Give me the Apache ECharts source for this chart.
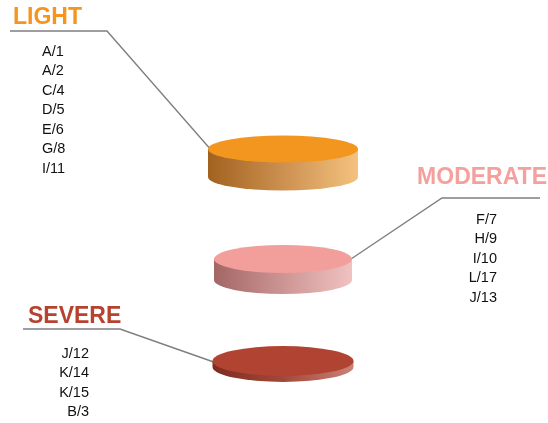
<!DOCTYPE html>
<html>
<head>
<meta charset="utf-8">
<script src="https://cdn.jsdelivr.net/npm/echarts@6/dist/echarts.min.js"></script>
<style>
  html, body { margin: 0; padding: 0; background: #fff; }
  #chart { width: 548px; height: 423px; }
</style>
</head>
<body>
<div id="chart"></div>
<script>
// Severity levels, top to bottom
const levels = ['LIGHT', 'MODERATE', 'SEVERE'];
// Disc heights per level
const discHeight = [28, 21, 6];
// Cases listed under each level
const lightCases = ['A/1', 'A/2', 'C/4', 'D/5', 'E/6', 'G/8', 'I/11'];
const moderateCases = ['F/7', 'H/9', 'I/10', 'L/17', 'J/13'];
const severeCases = ['J/12', 'K/14', 'K/15', 'B/3'];

// Look of each disc and where its leader line starts
const discStyle = {
  LIGHT: {
    rx: 75, ry: 13.5,
    top: '#F3961F',
    side: ['#A2621F', '#CC9050', '#F4C27E'],
    leader: [[10, 31], [107, 31]], edge: 'left'
  },
  MODERATE: {
    rx: 69, ry: 14,
    top: '#F29E9B',
    side: ['#A26665', '#CC9594', '#F0C2C1'],
    leader: [[540, 198], [442, 198]], edge: 'right'
  },
  SEVERE: {
    rx: 70.5, ry: 15,
    top: '#B14332',
    side: ['#7E2C20', '#A34839', '#CB8276'],
    leader: [[23, 329], [120, 329]], edge: 'left'
  }
};

const chart = echarts.init(document.getElementById('chart'), null, { renderer: 'canvas' });

function ellipsePath(cx, cy, rx, ry) {
  return 'M' + (cx - rx) + ' ' + cy +
    ' A' + rx + ' ' + ry + ' 0 1 0 ' + (cx + rx) + ' ' + cy +
    ' A' + rx + ' ' + ry + ' 0 1 0 ' + (cx - rx) + ' ' + cy + ' Z';
}

function sidePath(cx, cy, rx, ry, h) {
  return 'M' + (cx - rx) + ' ' + cy +
    ' L' + (cx - rx) + ' ' + (cy + h) +
    ' A' + rx + ' ' + ry + ' 0 0 0 ' + (cx + rx) + ' ' + (cy + h) +
    ' L' + (cx + rx) + ' ' + cy + ' Z';
}

// Each disc hangs below its band anchor: the top face sits one disc height lower
function renderDisc(params, api) {
  const level = levels[params.dataIndex];
  const h = api.value(1);
  const st = discStyle[level];
  const c = api.coord([0, api.value(0)]);
  const cx = c[0], cy = c[1] + h;
  const edgeX = st.edge === 'left' ? cx - st.rx : cx + st.rx;
  return {
    type: 'group',
    children: [
      {
        type: 'polyline',
        shape: { points: st.leader.concat([[edgeX + (st.edge === 'left' ? 4 : -4), cy + 2]]) },
        style: { stroke: '#7F7F7F', lineWidth: 1.4, fill: null },
        z2: 1
      },
      {
        type: 'path',
        shape: { pathData: sidePath(cx, cy, st.rx, st.ry, h) },
        style: {
          fill: {
            type: 'linear', x: 0, y: 0, x2: 1, y2: 0,
            colorStops: [
              { offset: 0, color: st.side[0] },
              { offset: 0.5, color: st.side[1] },
              { offset: 1, color: st.side[2] }
            ]
          }
        },
        z2: 2
      },
      {
        type: 'path',
        shape: { pathData: ellipsePath(cx, cy, st.rx, st.ry) },
        style: { fill: st.top },
        z2: 3
      }
    ]
  };
}

const listFont = { fontFamily: 'Liberation Sans, Arial, sans-serif', fontSize: 14.5, lineHeight: 19.5, fill: '#111111' };
const titleFont = { fontFamily: 'Liberation Sans, Arial, sans-serif', fontSize: 23, fontWeight: 'bold' };

chart.setOption({
  animation: false,
  grid: { left: 18, right: 0, top: 62.5, bottom: 9.5 },
  xAxis: { type: 'value', min: -1, max: 1, show: false },
  yAxis: { type: 'category', data: levels, inverse: true, show: false },
  series: [{
    type: 'custom',
    renderItem: renderDisc,
    data: levels.map((l, i) => [l, discHeight[i]]),
    encode: { y: 0 },
    silent: true
  }],
  graphic: [
    { type: 'text', left: 13, top: 6, style: Object.assign({ text: 'LIGHT', fill: '#F7941D' }, titleFont) },
    { type: 'text', right: 1, top: 166, style: Object.assign({ text: 'MODERATE', fill: '#F4A19E' }, titleFont) },
    { type: 'text', left: 28, top: 305, style: Object.assign({ text: 'SEVERE', fill: '#B5432F' }, titleFont) },
    { type: 'text', x: 42, y: 42, style: Object.assign({ text: lightCases.join('\n'), align: 'left', verticalAlign: 'top' }, listFont) },
    { type: 'text', x: 497, y: 210, style: Object.assign({ text: moderateCases.join('\n'), align: 'right', verticalAlign: 'top' }, listFont) },
    { type: 'text', x: 89, y: 344, style: Object.assign({ text: severeCases.join('\n'), align: 'right', verticalAlign: 'top' }, listFont) }
  ]
});
</script>
</body>
</html>
